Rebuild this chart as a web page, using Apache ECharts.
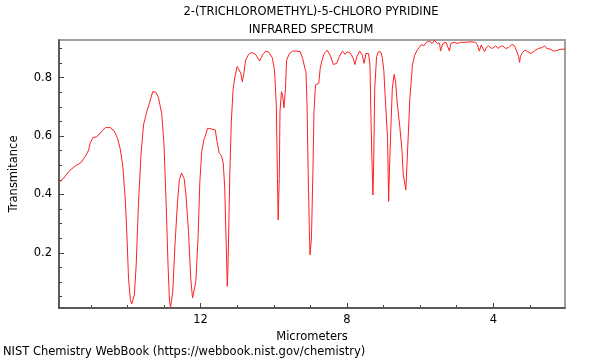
<!DOCTYPE html>
<html><head><meta charset="utf-8">
<script src="https://cdn.jsdelivr.net/npm/echarts@6/dist/echarts.min.js"></script>
<style>html,body{margin:0;padding:0;background:#fff}#c{width:600px;height:360px}</style>
</head><body><div id="c"></div>
<script>
const titleLines = ["2-(TRICHLOROMETHYL)-5-CHLORO PYRIDINE", "INFRARED SPECTRUM"];
const xName = "Micrometers";
const yName = "Transmitance";
const footer = "NIST Chemistry WebBook (https://webbook.nist.gov/chemistry)";
const xMajorTicks = [4, 8, 12];
const xMinorTicks = [3, 5, 6, 7, 9, 10, 11, 13, 14, 15];
const yMajorTicks = [0.2, 0.4, 0.6, 0.8];
const yMinorTicks = [0.05, 0.1, 0.15, 0.25, 0.3, 0.35, 0.45, 0.5, 0.55, 0.65, 0.7, 0.75, 0.85, 0.9];
const wavelength = [15.87,15.74,15.61,15.42,15.28,15.15,15.06,15.01,14.94,14.85,14.76,14.69,14.60,14.47,14.36,14.27,14.20,14.13,14.06,14.01,13.97,13.92,13.88,13.81,13.76,13.70,13.63,13.56,13.47,13.40,13.31,13.22,13.15,13.10,13.06,13.00,12.94,12.89,12.85,12.82,12.76,12.70,12.63,12.58,12.52,12.45,12.40,12.33,12.27,12.22,12.18,12.13,12.07,12.02,11.97,11.91,11.86,11.81,11.70,11.60,11.55,11.49,11.43,11.38,11.34,11.30,11.27,11.25,11.20,11.16,11.11,11.06,11.00,10.95,10.90,10.86,10.81,10.77,10.70,10.63,10.54,10.48,10.39,10.31,10.22,10.13,10.04,9.98,9.93,9.90,9.88,9.85,9.83,9.79,9.76,9.72,9.68,9.65,9.57,9.48,9.37,9.28,9.21,9.15,9.12,9.09,9.06,9.03,9.01,8.97,8.93,8.90,8.86,8.82,8.77,8.73,8.68,8.62,8.54,8.46,8.37,8.28,8.21,8.12,8.05,7.99,7.90,7.83,7.78,7.73,7.65,7.58,7.53,7.48,7.41,7.37,7.35,7.32,7.29,7.27,7.24,7.19,7.14,7.07,7.03,6.99,6.96,6.92,6.89,6.86,6.84,6.80,6.76,6.71,6.67,6.63,6.56,6.50,6.46,6.39,6.36,6.32,6.28,6.21,6.15,6.08,6.01,5.96,5.90,5.83,5.74,5.67,5.61,5.53,5.47,5.44,5.38,5.29,5.24,5.20,5.16,5.07,4.97,4.90,4.76,4.63,4.49,4.44,4.38,4.33,4.29,4.24,4.19,4.13,4.05,3.99,3.93,3.87,3.81,3.74,3.67,3.58,3.49,3.42,3.36,3.31,3.28,3.26,3.20,3.13,3.06,2.97,2.88,2.77,2.66,2.60,2.54,2.45,2.36,2.27,2.18,2.04];
const transmittance = [0.442,0.456,0.478,0.498,0.508,0.530,0.552,0.579,0.595,0.597,0.607,0.619,0.629,0.629,0.617,0.592,0.558,0.501,0.387,0.250,0.113,0.039,0.025,0.056,0.159,0.364,0.535,0.638,0.684,0.712,0.752,0.750,0.731,0.700,0.675,0.569,0.364,0.159,0.034,0.013,0.068,0.227,0.376,0.450,0.473,0.455,0.398,0.273,0.113,0.045,0.045,0.102,0.250,0.444,0.547,0.587,0.604,0.627,0.624,0.621,0.581,0.541,0.533,0.507,0.421,0.227,0.085,0.159,0.478,0.649,0.763,0.803,0.838,0.838,0.815,0.786,0.821,0.860,0.877,0.886,0.883,0.877,0.857,0.877,0.891,0.887,0.868,0.826,0.706,0.455,0.313,0.455,0.684,0.752,0.740,0.697,0.763,0.860,0.883,0.891,0.891,0.889,0.866,0.832,0.821,0.706,0.478,0.296,0.193,0.250,0.478,0.684,0.775,0.769,0.781,0.832,0.860,0.883,0.894,0.877,0.845,0.849,0.872,0.891,0.880,0.889,0.883,0.866,0.845,0.872,0.891,0.877,0.849,0.883,0.883,0.843,0.706,0.535,0.398,0.501,0.763,0.872,0.889,0.887,0.866,0.821,0.746,0.743,0.592,0.376,0.478,0.627,0.763,0.811,0.786,0.718,0.638,0.558,0.467,0.415,0.501,0.615,0.729,0.843,0.877,0.894,0.906,0.914,0.909,0.921,0.925,0.917,0.928,0.917,0.918,0.891,0.917,0.921,0.917,0.891,0.917,0.921,0.917,0.921,0.921,0.923,0.921,0.914,0.891,0.912,0.906,0.889,0.903,0.909,0.900,0.903,0.909,0.900,0.906,0.909,0.900,0.903,0.914,0.909,0.891,0.872,0.852,0.872,0.887,0.894,0.889,0.883,0.891,0.900,0.903,0.909,0.900,0.898,0.891,0.893,0.897,0.898];

const FONT = 'DejaVu Sans';
const FS = 11.5;
const chart = echarts.init(document.getElementById('c'), null, {renderer: 'canvas'});
const xMin = 2.04, xMax = 15.87, yMin = 0.011, yMax = 0.929;
const data = wavelength.map((w, i) => [w, transmittance[i]]);
const baseX = {type: 'value', min: xMin, max: xMax, inverse: true, position: 'bottom', splitLine: {show: false}};
const baseY = {type: 'value', min: yMin, max: yMax, position: 'left', splitLine: {show: false}};
chart.setOption({
  animation: false,
  backgroundColor: '#fff',
  grid: {left: 57, right: 35, top: 40, bottom: 52, show: true, borderColor: '#a0a0a0', borderWidth: 2, backgroundColor: 'transparent'},
  xAxis: [
    Object.assign({}, baseX, {
      name: xName, nameLocation: 'middle', nameGap: 18,
      nameTextStyle: {fontFamily: FONT, fontSize: FS, color: '#000'},
      axisLine: {show: true, onZero: false, lineStyle: {color: '#444', width: 1.5}},
      axisTick: {show: true, inside: true, length: 5, customValues: xMajorTicks, lineStyle: {color: '#444'}},
      axisLabel: {show: true, customValues: xMajorTicks, margin: 6, fontFamily: FONT, fontSize: FS, color: '#000'}
    }),
    Object.assign({}, baseX, {
      axisLine: {show: false},
      axisTick: {show: true, inside: true, length: 3, customValues: xMinorTicks, lineStyle: {color: '#444'}},
      axisLabel: {show: false}
    })
  ],
  yAxis: [
    Object.assign({}, baseY, {
      name: yName, nameLocation: 'middle', nameGap: 39, nameRotate: 90,
      nameTextStyle: {fontFamily: FONT, fontSize: FS, color: '#000'},
      axisLine: {show: true, onZero: false, lineStyle: {color: '#444', width: 1.5}},
      axisTick: {show: true, inside: true, length: 5, customValues: yMajorTicks, lineStyle: {color: '#444'}},
      axisLabel: {show: true, customValues: yMajorTicks, margin: 7, fontFamily: FONT, fontSize: FS, color: '#000',
        formatter: v => v.toFixed(1)}
    }),
    Object.assign({}, baseY, {
      axisLine: {show: false},
      axisTick: {show: true, inside: true, length: 3, customValues: yMinorTicks, lineStyle: {color: '#444'}},
      axisLabel: {show: false}
    })
  ],
  series: [{
    type: 'line', xAxisIndex: 0, yAxisIndex: 0, data: data, showSymbol: false, symbol: 'none',
    lineStyle: {color: '#ff2020', width: 1}, smooth: false, clip: true
  }],
  graphic: [
    {type: 'text', x: 311, y: 12, style: {text: titleLines[0], fontFamily: FONT, fontSize: FS, fill: '#000', align: 'center', verticalAlign: 'middle'}},
    {type: 'text', x: 311, y: 30, style: {text: titleLines[1], fontFamily: FONT, fontSize: FS, fill: '#000', align: 'center', verticalAlign: 'middle'}},
    {type: 'text', x: 3, y: 352, style: {text: footer, fontFamily: FONT, fontSize: FS, fill: '#000', align: 'left', verticalAlign: 'middle'}}
  ]
});
</script></body></html>
